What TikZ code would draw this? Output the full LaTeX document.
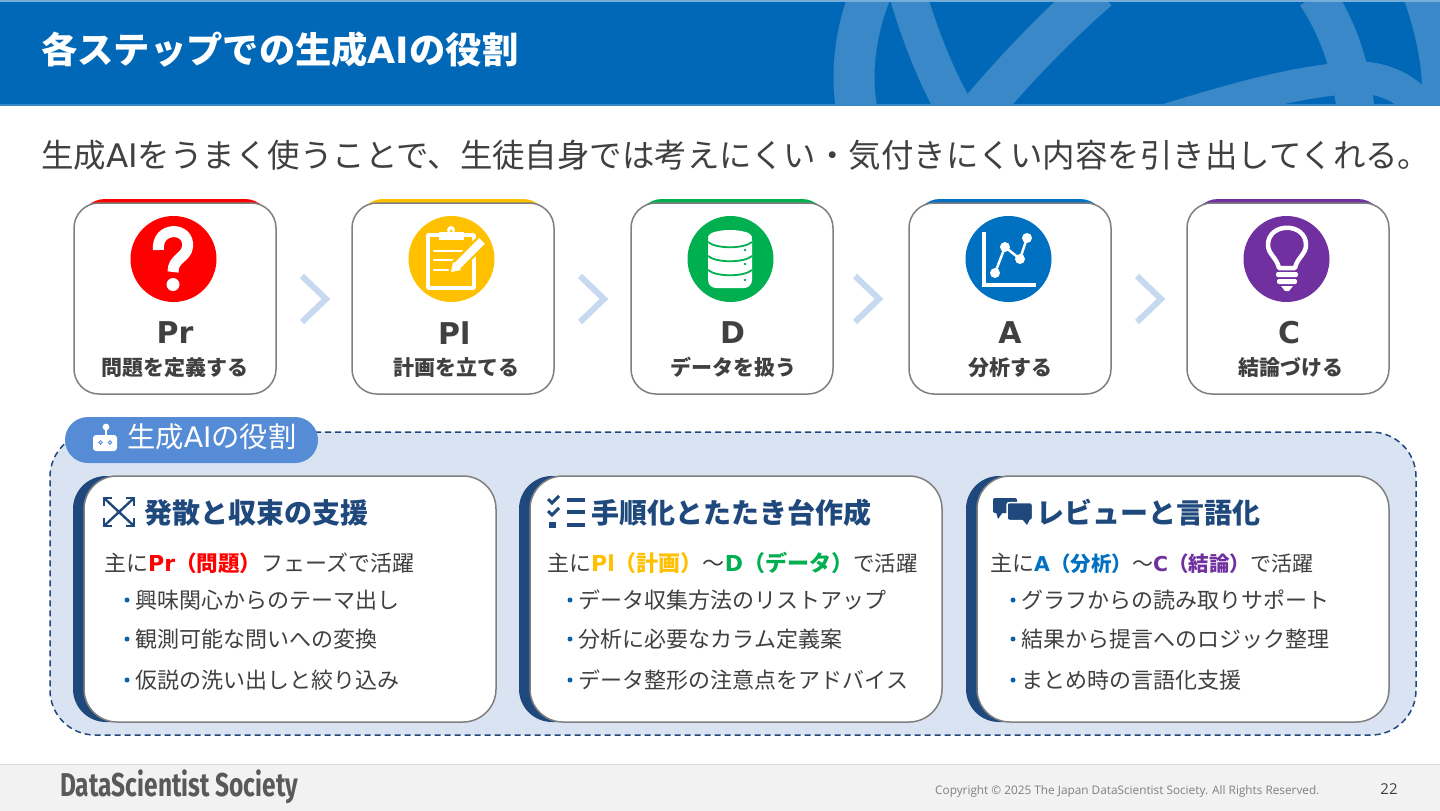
\documentclass[tikz,border=0pt]{standalone}
\usepackage{fontspec}
\setmainfont{Noto Sans CJK JP}
\newfontfamily\latf{DejaVu Sans}
\newfontfamily\footf{Open Sans}
\newfontfamily\logof{Fira Sans}
\newcommand{\fsz}[1]{\fontsize{#1pt}{#1pt}\selectfont}
\definecolor{hdr}{HTML}{0068B7}
\definecolor{hdrl}{HTML}{3A88C8}
\definecolor{navy}{HTML}{1F497D}
\definecolor{txt}{HTML}{404040}
\definecolor{cred}{HTML}{FF0000}
\definecolor{cyel}{HTML}{FFC000}
\definecolor{cgrn}{HTML}{00B050}
\definecolor{cblu}{HTML}{0070C0}
\definecolor{cpur}{HTML}{7030A0}
\definecolor{panel}{HTML}{DAE3F1}
\definecolor{pill}{HTML}{568CD6}
\definecolor{chev}{HTML}{C6D9F0}
\definecolor{edge}{HTML}{7F7F7F}
\tikzset{
  x=1pt,y=-1pt,
  card/.style={draw=edge,line width=1.5pt,fill=white,rounded corners=25pt,minimum width=202pt,minimum height=191pt,inner sep=0pt},
  rolecard/.style={draw=edge,line width=1.5pt,fill=white,rounded corners=33pt,minimum width=412pt,minimum height=246pt,inner sep=0pt},
  code/.style={font=\latf\bfseries\fsz{30},text=txt,inner sep=0pt,anchor=center},
  sub/.style={font=\bfseries\fsz{21},text=txt,inner sep=0pt,anchor=center},
  body/.style={font=\fsz{22},text=txt,inner sep=0pt,anchor=west},
  head/.style={font=\bfseries\fsz{28},text=navy,inner sep=0pt,anchor=west},
  dot/.style={fill=cblu!60!navy,draw=none,circle,minimum size=5pt,inner sep=0pt},
  ico/.style={draw=white,line cap=round,line join=round,fill=none},
  nav/.style={draw=navy,line cap=butt,line join=miter,fill=none},
  chevron/.style={draw=chev,line width=6pt,line join=miter,fill=none},
}
\newcommand{\stepcard}[6]{%
  \fill[#2,rounded corners=25pt] (#1-95,199) rectangle (#1+95,260);
  \node[card] (card#5) at (#1,298.5) {};
  \node[circle,fill=#2,minimum size=86pt,inner sep=0pt] (disc#5) at (#1-1.5,259) {};
  \node[code] (code#5) at (#1+#6*.4,333) {#3};
  \node[sub] (sub#5) at (#1+#6,367.5) {#4};
}
\newcommand{\rolecard}[2]{%
  \fill[navy,rounded corners=33pt] (#1-11,476) rectangle (#1+60,722);
  \node[rolecard] (role#2) at (#1+206,599) {};
}
\newcommand{\bitem}[4]{%
  \node[dot] (d#4) at (#1+23,#2) {};
  \node[body] (b#4) at (#1+31.5,#2) {#3};
}
\begin{document}
\begin{tikzpicture}
\useasboundingbox (0,0) rectangle (1440,811);
\fill[white] (0,0) rectangle (1440,811);
% header
\fill[hdr] (0,0) rectangle (1440,105);
\begin{scope}
\clip (0,0) rectangle (1440,105);
\draw[hdrl,line width=41pt] (870,-5) .. controls (854,35) and (850,80) .. (858,115);
\draw[hdrl,line width=37pt] (908,-5) .. controls (920,35) and (935,75) .. (958,115);
\draw[hdrl,line width=41pt] (1098,-10) .. controls (1052,30) and (1010,75) .. (974,118);
\draw[hdrl,line width=38pt] (1316,-5) .. controls (1336,25) and (1352,65) .. (1356,115);
\draw[hdrl,line width=32pt] (1150,125) .. controls (1220,103) and (1290,82) .. (1350,78) .. controls (1375,75) and (1400,85) .. (1415,100);
\fill[hdrl] (1404,0) .. controls (1414,28) and (1421,58) .. (1422,85) -- (1404,110) -- (1440,110) -- (1440,0) -- cycle;
\end{scope}
\fill[hdrl!70!white] (0,0) rectangle (1440,1.5);
\fill[hdrl] (0,104) rectangle (1440,105.5);
\node[anchor=west,inner sep=0pt,text=white,font=\bfseries\fsz{36.3}] (title) at (41,50) {各ステップでの生成\latf AI\normalfont\bfseries の役割};
% lead
\node[anchor=west,inner sep=0pt,text=txt,font=\fsz{32.45}] (lead) at (41,155) {生成{\latf AI}をうまく使うことで、生徒自身では考えにくい・気付きにくい内容を引き出してくれる。};
% cards
\stepcard{175}{cred}{Pr}{問題を定義する}{a}{0}
\stepcard{453}{cyel}{Pl}{計画を立てる}{b}{3}
\stepcard{732}{cgrn}{D}{データを扱う}{c}{1.5}
\stepcard{1010}{cblu}{A}{分析する}{d}{0}
\stepcard{1288}{cpur}{C}{結論づける}{e}{3}
\foreach \cx in {302,580,855,1137}
  \draw[chevron] (\cx,276) -- (\cx+24,299) -- (\cx,322);
% question icon
\draw[white,line width=11pt] (158.5,250) .. controls (156,226) and (190,226) .. (187.5,247) .. controls (186,258) and (173,258) .. (173,272);
\fill[white] (173,284.5) circle (6.5);
% clipboard icon
\draw[ico,line width=3.5pt] (463,235) -- (474,235) -- (474,288) -- (428,288) -- (428,235) -- (440,235);
\fill[white] (439,232) rectangle (464,240);
\fill[white] (451,230) circle (4);
\fill[cyel] (451,231) circle (1.5);
\draw[ico,line width=2.5pt] (434,251) -- (463,251);
\draw[ico,line width=2.5pt] (434,260) -- (456,260);
\draw[ico,line width=2.5pt] (434,270) -- (448,270);
\draw[cyel,line width=13pt] (453,269) -- (480,243);
\draw[white,line width=8pt] (457,266) -- (482,241);
\fill[white] (451,272) -- (453,262) -- (461,270) -- cycle;
% database icon
\fill[white,rounded corners=8pt] (708,232) rectangle (752,288);
\fill[white] (730,237) ellipse (22 and 7);
\draw[cgrn,line width=1.8pt] (708,242) .. controls (716,249) and (744,249) .. (752,242);
\draw[cgrn,line width=1.8pt] (708,256) .. controls (716,263) and (744,263) .. (752,256);
\draw[cgrn,line width=1.8pt] (708,270) .. controls (716,277) and (744,277) .. (752,270);
\foreach \yy in {250,264,280} \fill[cgrn] (745,\yy) circle (1.4);
% chart icon
\draw[ico,line width=3.5pt,line cap=butt,line join=miter] (984,232) -- (984,285) -- (1036,285);
\draw[ico,line width=2.5pt] (995,273) -- (1005,247) -- (1020,259) -- (1027,238);
\foreach \px/\py in {995/273,1005/247,1020/259,1027/238} \fill[white] (\px,\py) circle (5);
% bulb icon
\draw[ico,line width=4.5pt] (1279,268) .. controls (1277,258) and (1268,254) .. (1268,245) .. controls (1268,222) and (1306,222) .. (1306,245) .. controls (1306,254) and (1297,258) .. (1295,268) -- cycle;
\fill[white,rounded corners=2pt] (1276,272) rectangle (1298,277);
\fill[white,rounded corners=2pt] (1277,279) rectangle (1297,284);
\fill[white] (1281,286) -- (1293,286) -- (1289,291) -- (1285,291) -- cycle;
% panel
\node[draw=navy,dash pattern=on 6pt off 4pt,line width=1.5pt,fill=panel,rounded corners=45pt,minimum width=1366pt,minimum height=303pt,inner sep=0pt] (panel) at (733,583.5) {};
\node[fill=pill,rounded corners=23pt,minimum width=253pt,minimum height=46pt,inner sep=0pt] (tag) at (191.5,440) {};
\draw[white,line width=2pt] (106,429) -- (106,436);
\fill[white] (106,427) circle (3.4);
\fill[white,rounded corners=3pt] (93,435) rectangle (117,451);
\draw[pill,line width=.8pt] (100.5,442.5) circle (1.8) (110,442.5) circle (1.8);
\node[anchor=west,inner sep=0pt,text=white,font=\fsz{28.3}] (tagtext) at (127,437) {生成{\latf AI}の役割};
% role cards
\rolecard{84}{a}
\rolecard{530}{b}
\rolecard{977}{c}
% expand icon
\draw[nav,line width=2.4pt] (104,498) -- (134,526) (134,498) -- (104,526);
\draw[nav,line width=2.4pt] (112,498) -- (104,498) -- (104,506) (126,498) -- (134,498) -- (134,506) (104,518) -- (104,526) -- (112,526) (134,518) -- (134,526) -- (126,526);
\node[head] (ha) at (144,513) {発散と収束の支援};
% checklist icon
\draw[nav,line width=3pt] (548,499) -- (552,503) -- (559,496);
\draw[nav,line width=3pt] (548,511) -- (552,515) -- (559,508);
\fill[navy] (549,522) rectangle (555.5,528);
\foreach \yy in {500,512,525} \fill[navy] (567,\yy-1.7) rectangle (585,\yy+1.7);
\node[head] (hb) at (591,513) {手順化とたたき台作成};
% chat icon
\fill[navy,rounded corners=2pt] (993,498) rectangle (1017,513);
\fill[navy] (996,512) -- (1003,512) -- (998,519) -- cycle;
\filldraw[fill=navy,draw=white,rounded corners=2.5pt,line width=1.5pt] (1007,502.5) rectangle (1032.5,520.5);
\fill[navy] (1022,519) -- (1030,519) -- (1027,525) -- cycle;
\node[head] (hc) at (1036,513) {レビューと言語化};
% body
\node[body] (ia) at (104,563) {主に{\color{cred}\bfseries\latf Pr\normalfont\bfseries\fsz{21.6}（問題）}フェーズで活躍};
\bitem{104}{600}{興味関心からのテーマ出し}{a1}
\bitem{104}{639}{観測可能な問いへの変換}{a2}
\bitem{104}{680}{仮説の洗い出しと絞り込み}{a3}
\node[body] (ib) at (547,563) {主に{\color{cyel}\bfseries\latf Pl\normalfont\bfseries（計画）}～{\color{cgrn}\bfseries\latf D\normalfont\bfseries（データ）}{\fsz{21.5}で活躍}};
\bitem{547}{600}{データ収集方法のリストアップ}{b1}
\bitem{547}{639}{分析に必要なカラム定義案}{b2}
\bitem{547}{680}{データ整形の注意点をアドバイス}{b3}
\node[body] (ic) at (990,563) {主に{\color{cblu}\bfseries\fsz{20.5}\latf A\normalfont\bfseries\fsz{20.5}（分析）}{\fsz{21}～}{\color{cpur}\bfseries\fsz{20.5}\latf C\normalfont\bfseries\fsz{20.5}（結論）}{\fsz{21}で活躍}};
\bitem{990}{600}{グラフからの読み取りサポート}{c1}
\bitem{990}{639}{結果から提言へのロジック整理}{c2}
\bitem{990}{680}{まとめ時の言語化支援}{c3}
% footer
\fill[black!5] (0,765) rectangle (1440,811);
\fill[black!15] (0,764) rectangle (1440,765);
\node[anchor=west,inner sep=0pt,text=black!65] (logo) at (60,787) {\logof\bfseries\fsz{33}\scalebox{.742}[1]{DataScientist Society}};
\node[anchor=west,inner sep=0pt,text=black!50] (copy) at (935,791.5) {\footf\fsz{11.8}Copyright © 2025 The Japan DataScientist Society. All Rights Reserved.};
\node[anchor=center,inner sep=0pt,text=txt] (page) at (1389,789) {\footf\fsz{15}22};
\end{tikzpicture}
\end{document}
